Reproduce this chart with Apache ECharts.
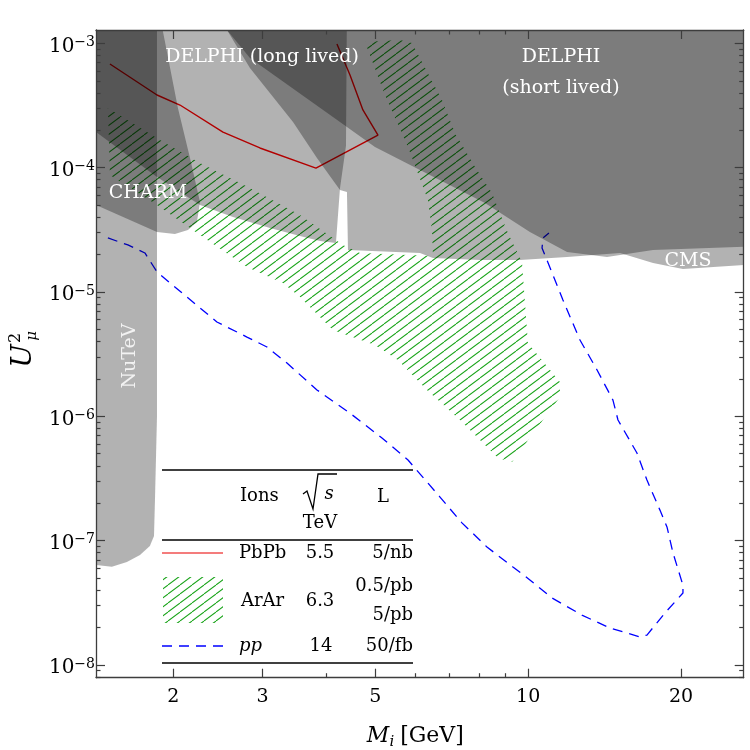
<!DOCTYPE html>
<html><head><meta charset="utf-8">
<script src="https://cdn.jsdelivr.net/npm/echarts@6/dist/echarts.min.js"></script>
<style>html,body{margin:0;padding:0;background:#fff}#c{width:750px;height:750px}</style>
</head><body><div id="c"></div>
<script>
// ---------------- data (M in GeV, U^2 dimensionless) ----------------
const xRange = [1.409, 26.58];
const yRange = [7.9e-9, 1.28e-3];
const xMajorTicks = [2, 3, 5, 10, 20];
const xMinorTicks = [4, 6, 7, 8, 9];
const yMajorTicks = [1e-8, 1e-7, 1e-6, 1e-5, 1e-4, 1e-3];
const yMinorMantissas = [2, 3, 4, 5, 6, 7, 8, 9];

const nutevM = [1.30, 1.858, 1.858, 1.841, 1.833, 1.799, 1.720, 1.621, 1.514, 1.409, 1.30];
const nutevU = [2e-3, 2e-3, 1e-6, 2.12e-7, 1.09e-7, 9.06e-8, 7.67e-8, 6.74e-8, 6.17e-8, 6.37e-8, 6.74e-8];

const charmM = [1.30, 1.866, 2.043, 2.158, 2.258, 2.227, 2.138, 2.015, 1.858, 1.409, 1.30];
const charmU = [2e-3, 2e-3, 3.02e-4, 1.195e-4, 5.29e-5, 3.65e-5, 3.15e-5, 2.93e-5, 3.04e-5, 5.01e-5, 5.70e-5];

const delphiLongM = [1.30, 4.397, 4.378, 4.260, 4.183, 3.891, 3.553, 3.101, 2.622, 2.258, 1.858, 1.409, 1.30];
const delphiLongU = [2e-3, 2e-3, 1.50e-4, 6.80e-5, 2.48e-5, 2.57e-5, 2.82e-5, 3.27e-5, 4.01e-5, 5.01e-5, 8.41e-5, 1.935e-4, 2.20e-4];

const delphiShortM = [2.472, 2.552, 2.832, 4.260, 4.993, 6.123, 8.222, 10.08, 11.93, 14.30, 17.62, 28.61, 28.61];
const delphiShortU = [2e-3, 1.279e-3, 7.62e-4, 2.33e-4, 1.466e-4, 9.57e-5, 5.19e-5, 3.04e-5, 2.10e-5, 1.91e-5, 2.18e-5, 2.34e-5, 2e-3];

const cmsM = [2.416, 2.552, 2.832, 3.443, 3.838, 4.260, 4.397, 4.417, 6.123, 6.494, 8.038, 9.636, 11.93, 15.17, 17.62, 20.18, 28.61, 28.61];
const cmsU = [2e-3, 1.279e-3, 6.33e-4, 2.33e-4, 1.195e-4, 6.61e-5, 6.37e-5, 2.18e-5, 2.06e-5, 1.88e-5, 1.81e-5, 1.81e-5, 1.91e-5, 2.06e-5, 1.71e-5, 1.53e-5, 1.68e-5, 2e-3];

const ararM = [1.487, 1.883, 2.258, 2.832, 3.553, 4.318, 4.665, 6.494, 6.465, 6.348, 5.800, 5.224, 4.771, 5.591, 5.906, 6.766, 7.177, 7.860, 8.486, 9.124, 9.725, 9.992, 11.55, 11.55, 9.294, 8.723, 7.342, 6.319, 5.540, 4.993, 4.127, 3.553, 3.289, 2.794, 2.258, 1.858, 1.501];
const ararU = [3.02e-4, 1.668e-4, 1.090e-4, 6.86e-5, 4.16e-5, 2.39e-5, 2.06e-5, 1.95e-5, 3.15e-5, 5.49e-5, 1.466e-4, 3.84e-4, 1.024e-3, 1.063e-3, 1.006e-3, 3.50e-4, 1.90e-4, 1.012e-4, 6.25e-5, 2.98e-5, 1.74e-5, 3.89e-6, 1.89e-6, 1.43e-6, 4.29e-7, 4.62e-7, 9.34e-7, 1.63e-6, 2.84e-6, 3.75e-6, 4.94e-6, 9.11e-6, 1.18e-5, 1.59e-5, 2.87e-5, 5.01e-5, 8.72e-5];

const pbpbM = [1.501, 1.858, 2.062, 2.506, 2.963, 3.820, 5.061, 4.727, 4.458, 4.202];
const pbpbU = [6.82e-4, 3.84e-4, 3.19e-4, 1.93e-4, 1.44e-4, 9.93e-5, 1.83e-4, 2.91e-4, 5.56e-4, 9.87e-4];

const ppM = [1.487, 1.628, 1.759, 1.858, 2.128, 2.438, 2.794, 3.059, 3.350, 3.838, 4.458, 5.154, 5.800, 6.706, 7.407, 8.296, 9.334, 10.08, 11.14, 12.76, 14.50, 16.61, 17.14, 18.60, 20.18, 20.18, 19.29, 18.77, 18.18, 17.14, 16.38, 15.03, 14.69, 13.67, 12.65, 11.71, 10.89, 10.65, 10.70, 10.99];
const ppU = [2.72e-5, 2.39e-5, 2.06e-5, 1.45e-5, 9.11e-6, 5.74e-6, 4.34e-6, 3.61e-6, 2.68e-6, 1.63e-6, 1.06e-6, 6.70e-7, 4.45e-7, 2.24e-7, 1.39e-7, 8.89e-8, 6.14e-8, 4.83e-8, 3.46e-8, 2.52e-8, 1.98e-8, 1.68e-8, 1.74e-8, 2.62e-8, 3.79e-8, 4.38e-8, 7.96e-8, 1.29e-7, 1.76e-7, 3.07e-7, 5.07e-7, 9.34e-7, 1.35e-6, 2.36e-6, 4.11e-6, 8.62e-6, 1.81e-5, 2.26e-5, 2.72e-5, 2.98e-5];

// ---------------- helpers ----------------
const FONT = "'DejaVu Serif', serif";
const L = Math.log10;
const pts = (ms, us) => ms.map((m, i) => [L(m), L(us[i])]);
const AXC = '#3d3d3d';

function hatchCanvas() {
  const c = document.createElement('canvas');
  c.width = 12; c.height = 9;
  const g = c.getContext('2d');
  g.strokeStyle = '#1ca51c'; g.lineWidth = 1.05;
  g.beginPath();
  for (const dx of [-12, 0, 12]) { g.moveTo(dx, 9); g.lineTo(dx + 12, 0); }
  g.stroke();
  return c;
}
const hatch = { image: hatchCanvas(), repeat: 'repeat' };

function polygonSeries(name, ms, us, fill, z) {
  const data = pts(ms, us);
  return {
    type: 'custom', name, z, clip: true, silent: true, data,
    renderItem: (params, api) => {
      if (params.dataIndex !== 0) return null;
      return { type: 'polygon', shape: { points: data.map(p => api.coord(p)) },
               style: { fill, stroke: null } };
    }
  };
}

const yMinorTicks = [];
for (let d = -9; d <= -3; d++) for (const m of yMinorMantissas) {
  const v = m * Math.pow(10, d);
  if (v > yRange[0] && v < yRange[1]) yMinorTicks.push(v);
}

const xMin = L(xRange[0]), xMax = L(xRange[1]);
const yMin = L(yRange[0]), yMax = L(yRange[1]);

function xAx(pos, vals, len, labels, line) {
  return {
    type: 'value', position: pos, min: xMin, max: xMax, z: 10,
    axisLine: { show: line, onZero: false, lineStyle: { color: AXC, width: 1.3 } },
    axisTick: { show: true, inside: true, length: len, customValues: vals.map(L), lineStyle: { color: AXC, width: 1.2 } },
    axisLabel: labels ? { show: true, customValues: vals.map(L), margin: 10, color: '#000',
      fontFamily: FONT, fontSize: 19, formatter: v => String(Math.round(Math.pow(10, v))) } : { show: false },
    splitLine: { show: false }
  };
}
function yAx(pos, vals, len, labels, line) {
  return {
    type: 'value', position: pos, min: yMin, max: yMax, z: 10,
    axisLine: { show: line, onZero: false, lineStyle: { color: AXC, width: 1.3 } },
    axisTick: { show: true, inside: true, length: len, customValues: vals.map(L), lineStyle: { color: AXC, width: 1.2 } },
    axisLabel: labels ? { show: true, customValues: vals.map(L), margin: 1, padding: [6, 0, 0, 0],
      formatter: v => '{b|10}{s|\u2212' + (-Math.round(v)) + '}',
      rich: { b: { fontFamily: FONT, fontSize: 20, lineHeight: 22, color: '#000' },
              s: { fontFamily: FONT, fontSize: 14, lineHeight: 14, verticalAlign: 'top', color: '#000' } } } : { show: false },
    splitLine: { show: false }
  };
}

const T = (text, x, y, o = {}) => ({
  type: 'text', x, y, z: 100, rotation: o.rot || 0,
  style: { text, fill: o.color || '#000', fontFamily: FONT, fontSize: o.size || 18,
           fontStyle: o.italic ? 'italic' : 'normal',
           align: o.align || 'center', verticalAlign: 'middle' }
});
const HL = (x1, x2, y) => ({ type: 'line', z: 100, shape: { x1, y1: y, x2, y2: y }, style: { stroke: '#000', lineWidth: 1.3 } });

const chart = echarts.init(document.getElementById('c'), null, { renderer: 'canvas' });
chart.setOption({
  animation: false,
  backgroundColor: '#fff',
  grid: { left: 96, top: 30, width: 647.7, height: 647.7, containLabel: false },
  xAxis: [xAx('bottom', xMajorTicks, 9, true, true), xAx('bottom', xMinorTicks, 4.5, false, false),
          xAx('top', xMajorTicks, 9, false, true), xAx('top', xMinorTicks, 4.5, false, false)],
  yAxis: [yAx('left', yMajorTicks, 9, true, true), yAx('left', yMinorTicks, 4.5, false, false),
          yAx('right', yMajorTicks, 9, false, true), yAx('right', yMinorTicks, 4.5, false, false)],
  series: [
    polygonSeries('ArAr', ararM, ararU, hatch, 1),
    { type: 'line', name: 'PbPb', z: 2, data: pts(pbpbM, pbpbU), symbol: 'none', clip: true,
      lineStyle: { color: '#ff0000', width: 1.4 } },
    { type: 'line', name: 'pp', z: 2, data: pts(ppM, ppU), symbol: 'none', clip: true,
      lineStyle: { color: '#0000ff', width: 1.3, type: [10, 7] } },
    polygonSeries('NuTeV', nutevM, nutevU, 'rgba(0,0,0,0.3)', 3),
    polygonSeries('CHARM', charmM, charmU, 'rgba(0,0,0,0.3)', 3),
    polygonSeries('DELPHI long lived', delphiLongM, delphiLongU, 'rgba(0,0,0,0.3)', 3),
    polygonSeries('DELPHI short lived', delphiShortM, delphiShortU, 'rgba(0,0,0,0.3)', 3),
    polygonSeries('CMS', cmsM, cmsU, 'rgba(0,0,0,0.3)', 3)
  ],
  graphic: [
    T('DELPHI (long lived)', 262, 57, { color: '#fff', size: 19 }),
    T('DELPHI', 561, 57, { color: '#fff', size: 19 }),
    T('(short lived)', 561, 88, { color: '#fff', size: 19 }),
    T('CHARM', 148, 193, { color: '#fff', size: 19 }),
    T('CMS', 688, 261, { color: '#fff', size: 19 }),
    T('NuTeV', 130, 356, { color: '#f2f2f2', size: 19, rot: Math.PI / 2 }),
    // axis titles
    { type: 'group', x: 24, y: 356, rotation: Math.PI / 2, z: 100, children: [
      T('U', 0, 0, { italic: true, size: 28 }),
      T('2', 18, -8, { size: 16 }),
      T('\u03bc', 20, 8, { size: 15, italic: true })
    ] },
    T('M', 378, 736, { italic: true, size: 22 }),
    T('i', 392, 742, { italic: true, size: 15 }),
    T('[GeV]', 432, 736, { size: 22 }),
    // legend table
    HL(162, 413, 470), HL(162, 413, 540), HL(162, 413, 663),
    T('Ions', 240, 496, { align: 'left' }),
    { type: 'polyline', z: 100, shape: { points: [[303, 494], [307, 491], [313, 509], [318, 474], [337, 474]] },
      style: { stroke: '#000', lineWidth: 1.3, fill: null } },
    T('s', 329, 494, { italic: true }),
    T('TeV', 320, 523),
    T('L', 383, 497),
    { type: 'line', z: 100, shape: { x1: 162, y1: 553, x2: 223, y2: 553 }, style: { stroke: '#f05050', lineWidth: 1.4 } },
    T('PbPb', 239, 553, { align: 'left' }), T('5.5', 320, 553), T('5/nb', 413, 553, { align: 'right' }),
    { type: 'rect', z: 100, shape: { x: 163, y: 577, width: 60, height: 46 }, style: { fill: hatch, stroke: null } },
    T('ArAr', 241, 601, { align: 'left' }), T('6.3', 320, 601),
    T('0.5/pb', 413, 586, { align: 'right' }), T('5/pb', 413, 615, { align: 'right' }),
    { type: 'line', z: 100, shape: { x1: 162, y1: 646, x2: 223, y2: 646 }, style: { stroke: '#0000ff', lineWidth: 1.3, lineDash: [10, 7] } },
    T('pp', 239, 646, { align: 'left', italic: true }), T('14', 321, 646), T('50/fb', 413, 646, { align: 'right' })
  ]
});
</script></body></html>
